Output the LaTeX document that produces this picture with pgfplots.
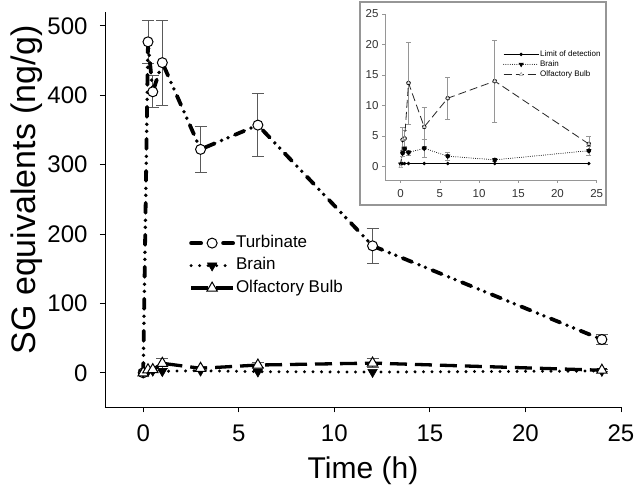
\documentclass[border=0pt]{standalone}
\usepackage{pgfplots}
\pgfplotsset{compat=1.18}
\usepackage{fontspec}
\setmainfont{Liberation Sans}
\definecolor{ebgray}{RGB}{90,90,90}
\definecolor{ingray}{RGB}{150,150,150}
\begin{document}
\begin{tikzpicture}[x=1pt,y=1pt]
\useasboundingbox (-105pt,-79.5pt) rectangle (535pt,407.5pt);
\begin{axis}[
 at={(0pt,0pt)}, anchor=south west,
 width=516pt, height=395.5pt, scale only axis,
 xmin=-2, xmax=25, ymin=-50, ymax=520,
 axis x line*=bottom, axis y line*=left,
 xtick={0,5,...,25}, ytick={0,100,...,500},
 tick align=outside, major tick length=5pt,
 tick style={black, line width=0.8pt},
 axis line style={black, line width=0.8pt},
 ticklabel style={font=\fontsize{24}{26}\selectfont},
 xticklabel style={yshift=-9pt},
 yticklabel style={xshift=-9pt},
 /pgf/number format/assume math mode=true,
 xlabel={Time (h)}, ylabel={SG equivalents (ng/g)},
 xlabel style={font=\fontsize{30}{32}\selectfont, at={(axis description cs:0.5,-0.16)}, anchor=center},
 ylabel style={font=\fontsize{34}{36}\selectfont, at={(axis description cs:-0.152,0.55)}, anchor=center},
 legend style={draw=none, fill=none, at={(axis description cs:0.157,0.444)}, anchor=north west,
   font=\fontsize{17}{19}\selectfont, row sep=4.5pt,
   nodes={text height=12pt, text depth=4pt, inner sep=1pt}},
 legend cell align=left,
 legend image code/.code={\draw[mark repeat=2,mark phase=2,#1] plot coordinates {(0pt,0pt) (21pt,0pt) (42pt,0pt)};},
]
% error bars
\addplot[forget plot, only marks, mark=none,
 error bars/.cd, y dir=both, y explicit,
 error bar style={solid, ebgray, line width=0.9pt},
 error mark options={solid, ebgray, rotate=90, mark size=6pt, line width=0.9pt}]
 table[x=x, y=y, y error=e]{
x y e
0.25 477 31
0.5 405 23
1 447 61
3 322 33
6 357 45
12 183 25
24 48 7
};
\addplot[forget plot, only marks, mark=none,
 error bars/.cd, y dir=both, y explicit,
 error bar style={solid, ebgray, line width=0.9pt},
 error mark options={solid, ebgray, rotate=90, mark size=6pt, line width=0.9pt}]
 table[x=x, y=y, y error=e]{
x y e
0.25 4.4 2.0
0.5 4.6 1.3
1 13.7 6.7
3 6.5 3.2
6 11.2 3.4
12 14 6.7
24 3.7 1.2
};
% Turbinate
\addplot[black, line width=3.8pt, line cap=round,
 dash pattern=on 10pt off 7.5pt on 0pt off 7pt on 0pt off 7.5pt,
 mark=*, mark size=5pt, mark options={solid, fill=white, draw=black, line width=1pt}]
 table{
0 0
0.25 477
0.5 405
1 447
3 322
6 357
12 183
24 48
};
\addlegendentry{Turbinate}
% Brain
\addplot[black, line width=3.3pt, line cap=round,
 dash pattern=on 0pt off 8.5pt,
 mark=triangle*, mark size=5.5pt, mark options={solid, rotate=180, fill=black, draw=black, line width=0.5pt}]
 table{
0 0.4
0.25 2.2
0.5 2.9
1 2.3
3 3.0
6 1.7
12 1.1
24 2.6
};
\addlegendentry{Brain}
% Olfactory bulb
\addplot[black, line width=3.3pt,
 dash pattern=on 17pt off 8pt,
 mark=triangle*, mark size=6pt, mark options={solid, fill=white, draw=black, line width=1pt}]
 table{
0 0
0.25 4.4
0.5 4.6
1 13.7
3 6.5
6 11.2
12 14
24 3.7
};
\addlegendentry{Olfactory Bulb}
\end{axis}

% inset
\fill[white] (255pt,202.5pt) rectangle (501pt,405.5pt);
\draw[ingray, line width=1.2pt] (255pt,202.5pt) rectangle (501pt,405.5pt);
\begin{axis}[
 at={(280pt,227.5pt)}, anchor=south west,
 width=211.7pt, height=166pt, scale only axis,
 xmin=-2, xmax=25, ymin=-2.2, ymax=25,
 axis x line*=bottom, axis y line*=left,
 xtick={0,5,...,25}, ytick={0,5,...,25},
 tick align=outside, major tick length=3pt,
 tick style={ingray, line width=0.6pt},
 axis line style={ingray, line width=0.6pt},
 ticklabel style={font=\fontsize{11.5}{12}\selectfont, text=black!80},
 xticklabel style={yshift=-3pt},
 /pgf/number format/assume math mode=true,
 legend style={draw=none, fill=none, at={(axis description cs:0.543,0.80)}, anchor=north west,
   font=\fontsize{8}{9}\selectfont, row sep=0pt,
   nodes={text height=6pt, text depth=2pt, inner sep=1pt}},
 legend cell align=left,
 legend image code/.code={\draw[mark repeat=2,mark phase=2,#1] plot coordinates {(0pt,0pt) (17.5pt,0pt) (35pt,0pt)};},
]
\addplot[forget plot, only marks, mark=none,
 error bars/.cd, y dir=both, y explicit,
 error bar style={solid, ingray, line width=0.6pt},
 error mark options={solid, ingray, rotate=90, mark size=2.5pt, line width=0.6pt}]
 table[x=x, y=y, y error=e]{
x y e
0.25 4.4 2.0
0.5 4.6 1.3
1 13.7 6.7
3 6.5 3.2
6 11.2 3.4
12 14 6.7
24 3.7 1.2
};
\addplot[forget plot, only marks, mark=none,
 error bars/.cd, y dir=both, y explicit,
 error bar style={solid, ingray, line width=0.6pt},
 error mark options={solid, ingray, rotate=90, mark size=2.5pt, line width=0.6pt}]
 table[x=x, y=y, y error=e]{
x y e
0.25 2.2 0.5
0.5 2.9 0.5
1 2.3 0.4
3 3.0 1.5
6 1.7 0.7
12 1.1 0.2
24 2.6 0.7
};
\addplot[black, line width=0.8pt, mark=*, mark size=1.3pt]
 table{
0 0.5
0.25 0.5
0.5 0.5
1 0.5
3 0.5
6 0.5
12 0.5
24 0.5
};
\addlegendentry{Limit of detection}
\addplot[black, line width=1pt, line cap=round, dash pattern=on 0pt off 2.2pt,
 mark=triangle*, mark size=2pt, mark options={solid, rotate=180, fill=black}]
 table{
0 0.4
0.25 2.2
0.5 2.9
1 2.3
3 3.0
6 1.7
12 1.1
24 2.6
};
\addlegendentry{Brain}
\addplot[black!85, line width=0.8pt, dash pattern=on 8pt off 4pt,
 mark=triangle*, mark size=2pt, mark options={solid, fill=white, draw=ingray, line width=0.5pt}]
 table{
0 0
0.25 4.4
0.5 4.6
1 13.7
3 6.5
6 11.2
12 14
24 3.7
};
\addlegendentry{Olfactory Bulb}
\end{axis}
\end{tikzpicture}
\end{document}
